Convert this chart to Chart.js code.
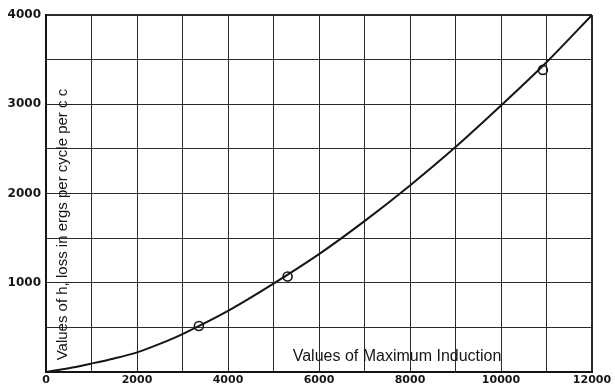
<!DOCTYPE html>
<html>
<head>
<meta charset="utf-8">
<script src="https://cdn.jsdelivr.net/npm/chart.js@4.4.1/dist/chart.umd.min.js"></script>
<style>
  html, body { margin: 0; padding: 0; background: #fff; }
  #wrap { width: 615px; height: 389px; }
</style>
</head>
<body>
<div id="wrap"><canvas id="hysteresis"></canvas></div>
<script>
// Maximum induction B (lines per sq cm) and hysteresis loss h (ergs per cycle per c.c.)
const inductionValues = [0, 500, 1000, 1500, 2000, 2500, 3000, 4000, 5000, 6000, 7000, 8000, 9000, 10000, 11000, 12000];
const lossValues = [0, 42, 95, 152, 220, 315, 425, 685, 990, 1320, 1690, 2090, 2520, 2985, 3470, 4000];

// measured points marked with circles
const measuredInduction = [3360, 5310, 10920];
const measuredLoss = [515, 1070, 3385];

const xTicks = [0, 2000, 4000, 6000, 8000, 10000, 12000];
const yTicks = [1000, 2000, 3000, 4000];

const ink = '#151515';

// titles are printed inside the plot frame
const innerTitles = {
    id: 'innerTitles',
    afterDatasetsDraw(chart) {
        const { ctx, chartArea: a } = chart;
        ctx.save();
        ctx.fillStyle = ink;
        ctx.textAlign = 'center';
        ctx.textBaseline = 'middle';
        ctx.font = '16px "Liberation Sans", Arial, sans-serif';
        ctx.fillText('Values of Maximum Induction', a.left + (a.right - a.left) * 0.643, a.bottom - 15);

        ctx.font = '15px "Liberation Sans", Arial, sans-serif';
        ctx.translate(a.left + 17, a.top + (a.bottom - a.top) * 0.587);
        ctx.rotate(-Math.PI / 2);
        ctx.fillText('Values of h, loss in ergs per cycle per c c', 0, 0);
        ctx.restore();
    }
};

const ctx = document.getElementById('hysteresis').getContext('2d');

new Chart(ctx, {
    type: 'scatter',
    data: {
        datasets: [
            {
                data: inductionValues.map((b, i) => ({ x: b, y: lossValues[i] })),
                showLine: true,
                borderColor: ink,
                borderWidth: 2,
                pointRadius: 0,
                tension: 0.3,
                order: 2
            },
            {
                data: measuredInduction.map((b, i) => ({ x: b, y: measuredLoss[i] })),
                showLine: false,
                pointRadius: 4.5,
                pointBorderWidth: 1.6,
                pointBorderColor: ink,
                pointBackgroundColor: 'rgba(255,255,255,0)',
                order: 1
            }
        ]
    },
    options: {
        responsive: true,
        maintainAspectRatio: false,
        animation: false,
        layout: { padding: { top: 15, right: 23, left: 0, bottom: 0 } },
        plugins: {
            legend: { display: false },
            tooltip: { enabled: false }
        },
        scales: {
            x: {
                type: 'linear',
                min: 0,
                max: 12000,
                afterFit: s => { s.height = 17; },
                ticks: {
                    stepSize: 1000,
                    autoSkip: false,
                    maxRotation: 0,
                    padding: 2,
                    color: ink,
                    font: { family: '"DejaVu Sans", sans-serif', size: 11, weight: 'bold' },
                    callback: v => (xTicks.includes(v) ? String(v) : '')
                },
                grid: {
                    color: '#2a2a2a',
                    lineWidth: c => (c.tick && c.tick.value === 12000 ? 2 : 1),
                    drawTicks: false
                },
                border: { color: ink, width: 2 }
            },
            y: {
                min: 0,
                max: 4000,
                afterFit: s => { s.width = 46; },
                ticks: {
                    stepSize: 500,
                    autoSkip: false,
                    padding: 5,
                    color: ink,
                    font: { family: '"DejaVu Sans", sans-serif', size: 12, weight: 'bold' },
                    callback: v => (yTicks.includes(v) ? String(v) : '')
                },
                grid: {
                    color: '#2a2a2a',
                    lineWidth: c => (c.tick && c.tick.value === 4000 ? 2 : 1),
                    drawTicks: false
                },
                border: { color: ink, width: 2 }
            }
        }
    },
    plugins: [innerTitles]
});
</script>
</body>
</html>
